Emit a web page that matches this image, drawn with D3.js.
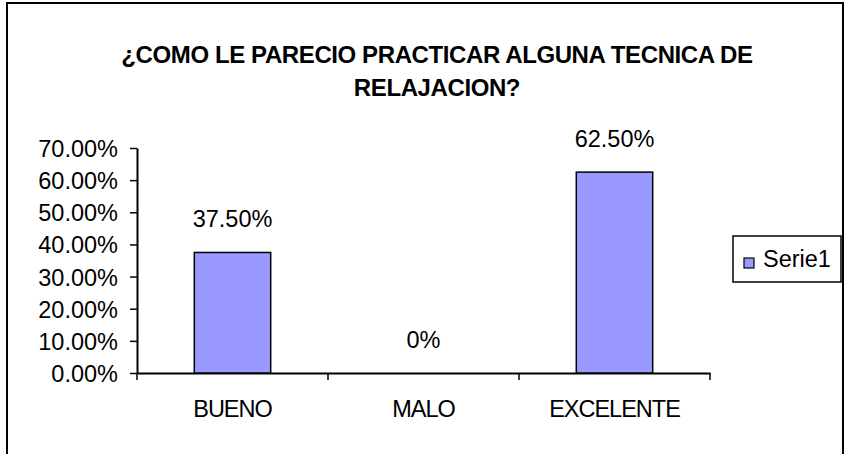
<!DOCTYPE html>
<html>
<head>
<meta charset="utf-8">
<script src="https://cdn.jsdelivr.net/npm/d3@7"></script>
<style>
  html, body { margin: 0; padding: 0; background: #fff; }
  svg { display: block; font-family: Arial, "Liberation Sans", sans-serif; }
</style>
</head>
<body>
<div id="chart"></div>
<script>
const categories = ['BUENO', 'MALO', 'EXCELENTE'];
const values = [0.375, 0, 0.625];
const valueLabels = ['37.50%', '0%', '62.50%'];
const yTicks = [0, 0.1, 0.2, 0.3, 0.4, 0.5, 0.6, 0.7];
const seriesName = 'Serie1';
const titleLines = ['¿COMO LE PARECIO PRACTICAR ALGUNA TECNICA DE', 'RELAJACION?'];

const width = 844;
const height = 454;
const plot = { left: 137, right: 710, top: 148, bottom: 373 };
const barColor = '#9999ff';
const fontSize = 23.5;

const svg = d3.select('#chart')
  .append('svg')
  .attr('width', width)
  .attr('height', height);

// outer frame (bottom edge is off the picture)
svg.append('rect')
  .attr('x', 7)
  .attr('y', 3)
  .attr('width', 836)
  .attr('height', 470)
  .attr('fill', '#fff')
  .attr('stroke', '#000')
  .attr('stroke-width', 2);

svg.selectAll('.title')
  .data(titleLines).enter()
  .append('text')
  .attr('class', 'title')
  .attr('x', 437)
  .attr('y', (d, i) => 63 + i * 33)
  .attr('text-anchor', 'middle')
  .attr('font-size', 24)
  .attr('font-weight', 'bold')
  .attr('letter-spacing', -0.4)
  .text(d => d);

const x = d3.scaleBand()
  .domain(categories)
  .range([plot.left, plot.right]);

const y = d3.scaleLinear()
  .domain([0, 0.7])
  .range([plot.bottom, plot.top]);

const barWidth = x.bandwidth() * 0.4;

// y axis
const yAxis = svg.append('g')
  .attr('transform', `translate(${plot.left},0)`)
  .call(d3.axisLeft(y)
    .tickValues(yTicks)
    .tickFormat(d3.format('.2%'))
    .tickSize(7)
    .tickSizeOuter(0)
    .tickPadding(12));
yAxis.selectAll('text')
  .attr('font-size', fontSize)
  .attr('fill', '#000')
  .attr('dy', '0.36em');
yAxis.selectAll('.tick line')
  .attr('stroke', '#000')
  .attr('stroke-width', 1.5);

// x axis: line plus ticks on the category boundaries
const xAxis = svg.append('g')
  .attr('transform', `translate(0,${plot.bottom})`)
  .call(d3.axisBottom(x).tickSize(0).tickSizeOuter(0).tickFormat(''));
xAxis.selectAll('.tick').remove();

const xTickPos = categories.map(c => x(c)).concat([plot.right]);
svg.selectAll('.x-tick')
  .data(xTickPos).enter()
  .append('line')
  .attr('class', 'x-tick')
  .attr('x1', d => d)
  .attr('x2', d => d)
  .attr('y1', plot.bottom)
  .attr('y2', plot.bottom + 7)
  .attr('stroke', '#000')
  .attr('stroke-width', 1.5);

svg.selectAll('.domain')
  .attr('stroke', '#000')
  .attr('stroke-width', 2);

svg.selectAll('.x-label')
  .data(categories).enter()
  .append('text')
  .attr('class', 'x-label')
  .attr('x', d => x(d) + x.bandwidth() / 2)
  .attr('y', plot.bottom + 44)
  .attr('text-anchor', 'middle')
  .attr('font-size', fontSize)
  .attr('letter-spacing', -1)
  .text(d => d);

// bars (zero bar is not drawn)
svg.selectAll('.bar')
  .data(categories.map((c, i) => ({ c, v: values[i] })).filter(d => d.v > 0))
  .enter()
  .append('rect')
  .attr('class', 'bar')
  .attr('x', d => x(d.c) + (x.bandwidth() - barWidth) / 2)
  .attr('y', d => y(d.v))
  .attr('width', barWidth)
  .attr('height', d => y(0) - y(d.v))
  .attr('fill', barColor)
  .attr('stroke', '#000')
  .attr('stroke-width', 1.5);

svg.selectAll('.value-label')
  .data(values).enter()
  .append('text')
  .attr('class', 'value-label')
  .attr('x', (d, i) => x(categories[i]) + x.bandwidth() / 2)
  .attr('y', d => y(d) - 25)
  .attr('text-anchor', 'middle')
  .attr('font-size', fontSize)
  .text((d, i) => valueLabels[i]);

// legend
const legend = svg.append('g').attr('transform', 'translate(733,236)');
legend.append('rect')
  .attr('width', 108)
  .attr('height', 46)
  .attr('fill', '#fff')
  .attr('stroke', '#000')
  .attr('stroke-width', 1.5);
legend.append('rect')
  .attr('x', 11)
  .attr('y', 22)
  .attr('width', 10)
  .attr('height', 10)
  .attr('fill', barColor)
  .attr('stroke', '#000')
  .attr('stroke-width', 1.2);
legend.append('text')
  .attr('x', 30)
  .attr('y', 31)
  .attr('font-size', fontSize)
  .text(seriesName);
</script>
</body>
</html>
